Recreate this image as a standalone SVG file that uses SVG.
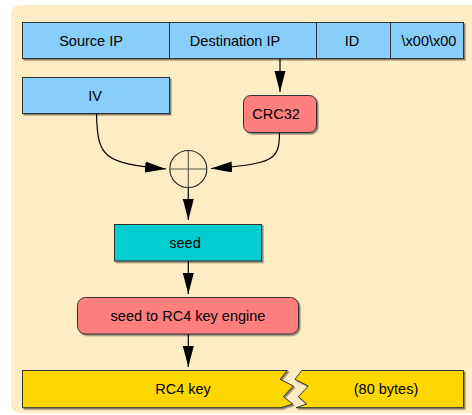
<svg xmlns="http://www.w3.org/2000/svg" width="472" height="415" viewBox="0 0 472 415">
<style>
text{font-family:"Liberation Sans",Arial,sans-serif;font-size:14.5px;fill:#000;text-anchor:middle}
.box{stroke:#333;stroke-width:1}
.blue{fill:#87CEFA}
.red{fill:#FF7F7F}
.teal{fill:#00CED1}
.gold{fill:#FFD700}
.conn{fill:none;stroke:#000;stroke-width:1.2}
</style>
<defs>
<marker id="arr" markerUnits="userSpaceOnUse" markerWidth="22" markerHeight="12" refX="21" refY="5.5" orient="auto">
<path d="M0,0 L21,5.5 L0,11 Z" fill="#000"/>
</marker>
<filter id="sh" x="-10%" y="-10%" width="130%" height="140%">
<feDropShadow dx="1.5" dy="1.5" stdDeviation="0.6" flood-color="#000" flood-opacity="0.45"/>
</filter>
</defs>
<rect x="11" y="5" width="475" height="408" rx="9" fill="#FEECC4"/>

<g id="header" filter="url(#sh)">
<rect class="box blue" x="22.5" y="22.5" width="441" height="36"/>
<line x1="169.5" y1="22.5" x2="169.5" y2="58.5" stroke="#333"/>
<line x1="316.5" y1="22.5" x2="316.5" y2="58.5" stroke="#333"/>
<line x1="390.5" y1="22.5" x2="390.5" y2="58.5" stroke="#333"/>
</g>
<g id="source-ip"><text x="91" y="45.5">Source IP</text></g>
<g id="destination-ip"><text x="235" y="45.5">Destination IP</text></g>
<g id="id-field"><text x="352" y="45.5">ID</text></g>
<g id="padding"><text x="429" y="45.5">\x00\x00</text></g>

<g id="iv">
<rect class="box blue" x="22.5" y="77.5" width="147" height="36" filter="url(#sh)"/>
<text x="95" y="100.5">IV</text>
</g>

<g id="crc32">
<rect class="box red" x="243.5" y="95.5" width="73" height="37" rx="7" filter="url(#sh)"/>
<text x="276" y="119">CRC32</text>
</g>

<g id="xor">
<circle cx="188.3" cy="169" r="18.5" fill="none" stroke="#222" stroke-width="1.1"/>
<line x1="169.8" y1="169" x2="206.8" y2="169" stroke="#554" stroke-width="1.1"/>
<line x1="188.3" y1="150.5" x2="188.3" y2="187.5" stroke="#554" stroke-width="1.1"/>
</g>

<g id="seed">
<rect class="box teal" x="114.5" y="224.5" width="147" height="36.5" filter="url(#sh)"/>
<text x="185" y="247.5">seed</text>
</g>

<g id="engine">
<rect class="box red" x="77.5" y="297.5" width="221" height="36.5" rx="8" filter="url(#sh)"/>
<text x="188" y="320.5">seed to RC4 key engine</text>
</g>

<g id="rc4key">
<g filter="url(#sh)">
<path class="box gold" d="M22.5,370.5 H287.3 L280,379.3 L293.3,386 L283.3,396.7 L292.7,404 L281,407.7 H22.5 Z"/>
<path class="box gold" d="M301.7,370.5 H463.5 V407.7 H296 L306.7,404 L298.3,396.7 L308.3,386 L295,379.3 Z"/>
</g>
<text x="183" y="394">RC4 key</text>
<text x="386" y="394">(80 bytes)</text>
</g>

<g id="connectors">
<path class="conn" d="M280,59 V92" marker-end="url(#arr)"/>
<path class="conn" d="M96.5,114 C97.5,158 104,163 166,169" marker-end="url(#arr)"/>
<path class="conn" d="M279.5,133 C279.5,161 272,164 211,168.5" marker-end="url(#arr)"/>
<path class="conn" d="M188.3,187.5 V220" marker-end="url(#arr)"/>
<path class="conn" d="M188.3,261 V294" marker-end="url(#arr)"/>
<path class="conn" d="M188.3,334 V367" marker-end="url(#arr)"/>
</g>
</svg>
